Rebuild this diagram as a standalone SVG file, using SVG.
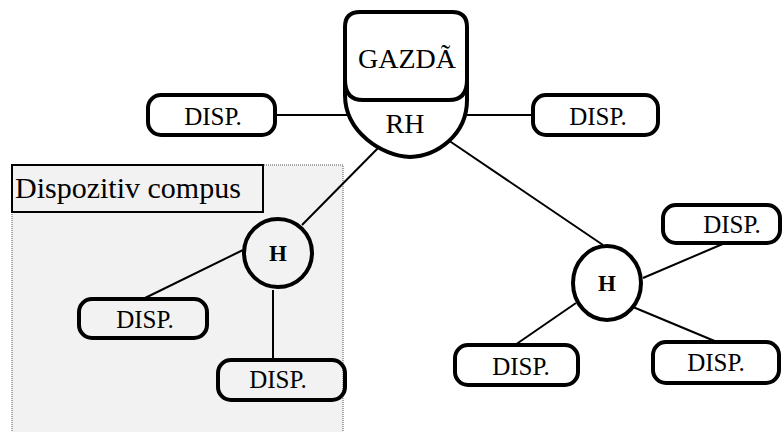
<svg xmlns="http://www.w3.org/2000/svg" width="782" height="432" viewBox="0 0 782 432">
<style>
.t{font-family:"Liberation Serif","Times New Roman",serif;fill:#000}
.d{font-size:25px}
.disp{fill:none;stroke:#000;stroke-width:4}
.hub{fill:none;stroke:#000;stroke-width:4}
.c line{stroke:#000;stroke-width:2}
</style>
<g id="composite">
<rect x="12" y="165" width="331" height="280" fill="#f2f2f2" stroke="#555" stroke-width="1" stroke-dasharray="1,1"/>
<rect x="12" y="165" width="251" height="47" fill="#f2f2f2" stroke="#000" stroke-width="2"/>
<text class="t" x="15" y="198" font-size="30">Dispozitiv compus</text>
</g>
<g class="c" id="connectors">
<line x1="275" y1="115" x2="347" y2="115"/>
<line x1="466" y1="115" x2="533" y2="115"/>
<line x1="383" y1="143" x2="302" y2="225"/>
<line x1="448" y1="140" x2="603" y2="245"/>
<line x1="243" y1="250" x2="143" y2="299"/>
<line x1="273" y1="290" x2="273" y2="360"/>
<line x1="643" y1="278" x2="725" y2="243"/>
<line x1="576" y1="303" x2="515" y2="345"/>
<line x1="633" y1="307" x2="717" y2="342"/>
</g>
<g id="host">
<path d="M 360 12 H 452 Q 467 12 467 27 V 100 C 467 135 437 156 410 157 C 382 156 345 132 345 95 V 27 Q 345 12 360 12 Z" fill="#fff" stroke="#000" stroke-width="4"/>
<path d="M 345 80 Q 345 100 363 100 H 449 Q 467 100 467 80" fill="none" stroke="#000" stroke-width="4"/>
<text class="t" x="407" y="68" font-size="28" text-anchor="middle">GAZDÃ</text>
<text class="t" x="405" y="133" font-size="28" text-anchor="middle">RH</text>
</g>
<g id="disp-top-left">
<rect class="disp" x="148" y="95" width="127" height="40" rx="13"/>
<text class="t d" x="213" y="125" text-anchor="middle">DISP.</text>
</g>
<g id="disp-top-right">
<rect class="disp" x="533" y="95" width="125" height="40" rx="13"/>
<text class="t d" x="598" y="125" text-anchor="middle">DISP.</text>
</g>
<g id="hub-left">
<circle class="hub" cx="278" cy="253" r="34"/>
<text class="t" x="278" y="261" font-size="23" font-weight="bold" text-anchor="middle">H</text>
</g>
<g id="disp-left-1">
<rect class="disp" x="79" y="299" width="128" height="39" rx="13"/>
<text class="t d" x="145" y="328" text-anchor="middle">DISP.</text>
</g>
<g id="disp-left-2">
<rect class="disp" x="218" y="360" width="127" height="40" rx="13"/>
<text class="t d" x="278" y="388" text-anchor="middle">DISP.</text>
</g>
<g id="hub-right">
<ellipse class="hub" cx="607" cy="283" rx="34" ry="37"/>
<text class="t" x="607" y="291" font-size="23" font-weight="bold" text-anchor="middle">H</text>
</g>
<g id="disp-right-top">
<rect class="disp" x="663" y="205" width="117" height="38" rx="13"/>
<text class="t d" x="732" y="233" text-anchor="middle">DISP.</text>
</g>
<g id="disp-right-bl">
<rect class="disp" x="455" y="345" width="123" height="40" rx="13"/>
<text class="t d" x="521" y="375" text-anchor="middle">DISP.</text>
</g>
<g id="disp-right-br">
<rect class="disp" x="653" y="342" width="126" height="41" rx="13"/>
<text class="t d" x="716" y="371" text-anchor="middle">DISP.</text>
</g>
</svg>
